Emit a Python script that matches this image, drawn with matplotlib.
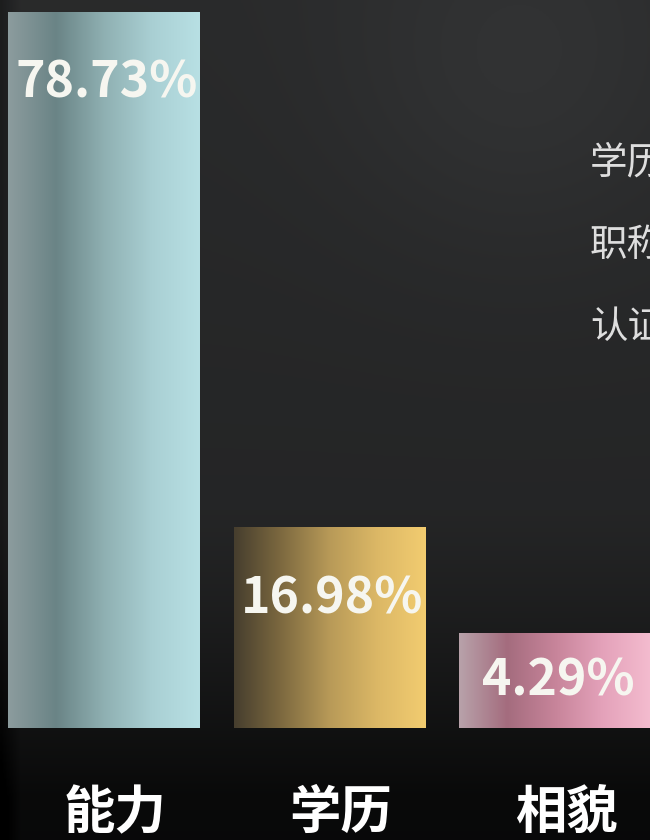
import numpy as np
import matplotlib.pyplot as plt
from matplotlib.colors import LinearSegmentedColormap

plt.rcParams['font.family'] = ['Noto Sans CJK SC', 'DejaVu Sans']

# data
categories = ['能力', '学历', '相貌']
values = [78.73, 16.98, 4.29]
side_notes = ['学历', '职称', '认证']

# gradient colours for each bar, left to right
bar_colors = [
    ['#8c9c9e', '#6a8486', '#8fb0b2', '#a9cfd3', '#b8e0e4'],
    ['#463e2e', '#7e6a40', '#b89a58', '#dcb866', '#f2cc70'],
    ['#b8a2aa', '#a46c7e', '#c7849a', '#e4a2ba', '#f4bccf'],
]

BASE = -7  # bars start a little below zero so the small ones stay readable

fig = plt.figure(figsize=(6.5, 8.4), dpi=100)

# dark background with a soft vertical fade
bg = fig.add_axes([0, 0, 1, 1])
yy = np.linspace(0, 1, 300)[:, None]
xx = np.linspace(0, 1, 200)[None, :]
shade = 0.165 - 0.03 * yy - 0.10 * np.clip((yy - 0.6) / 0.35, 0, 1) ** 1.3
shade = shade + 0.035 * np.exp(-((xx - 0.8) ** 2 / 0.08 + (yy - 0.08) ** 2 / 0.05))
shade = shade - 0.05 * np.clip((0.03 - xx) / 0.03, 0, 1)
bg.imshow(np.dstack([shade * 0.98, shade, shade * 1.02]).clip(0, 1),
          aspect='auto', extent=(0, 1, 0, 1), origin='upper')
bg.set_axis_off()

ax = fig.add_axes([0, 1 - 728 / 840, 1, 728 / 840])
ax.patch.set_alpha(0)
x = np.arange(len(categories))
ax.set_xlim(-0.46, 2.42)
ax.set_ylim(BASE, BASE + 728 / (716 / (values[0] - BASE)))

heights = [v - BASE for v in values]
bars = ax.bar(x, heights, width=0.85, bottom=BASE, color='none')

grad = np.linspace(0, 1, 256)[None, :]
for b, cols in zip(bars, bar_colors):
    cmap = LinearSegmentedColormap.from_list('g', cols)
    x0, y0 = b.get_x(), b.get_y()
    ax.imshow(grad, cmap=cmap, aspect='auto',
              extent=(x0, x0 + b.get_width(), y0, y0 + b.get_height()), zorder=2)

# value labels inside the bars
for b, v in zip(bars, values):
    top = ax.transData.transform((0, v))[1]
    bottom = ax.transData.transform((0, BASE))[1]
    off = min(71, (top - bottom) / 2)
    ax.annotate(f'{v:.2f}%', (b.get_x() + b.get_width() / 2, v),
                xytext=(3, -off), textcoords='offset pixels',
                ha='center', va='center', fontsize=36, fontweight='bold',
                color='#f6f6f0', zorder=3)

ax.set_xticks(x + 0.05)
ax.set_xticklabels(categories, fontsize=37, fontweight='bold', color='white')
ax.tick_params(axis='x', length=0, pad=42)
ax.set_yticks([])
for s in ax.spines.values():
    s.set_visible(False)

# note text on the right, cut off by the edge like in the original
for i, t in enumerate(side_notes):
    fig.text(590 / 650, 1 - (163 + 82 * i) / 840, t, fontsize=27,
             color='#dedede', va='center', ha='left')

fig.savefig('out.png', dpi=100)
